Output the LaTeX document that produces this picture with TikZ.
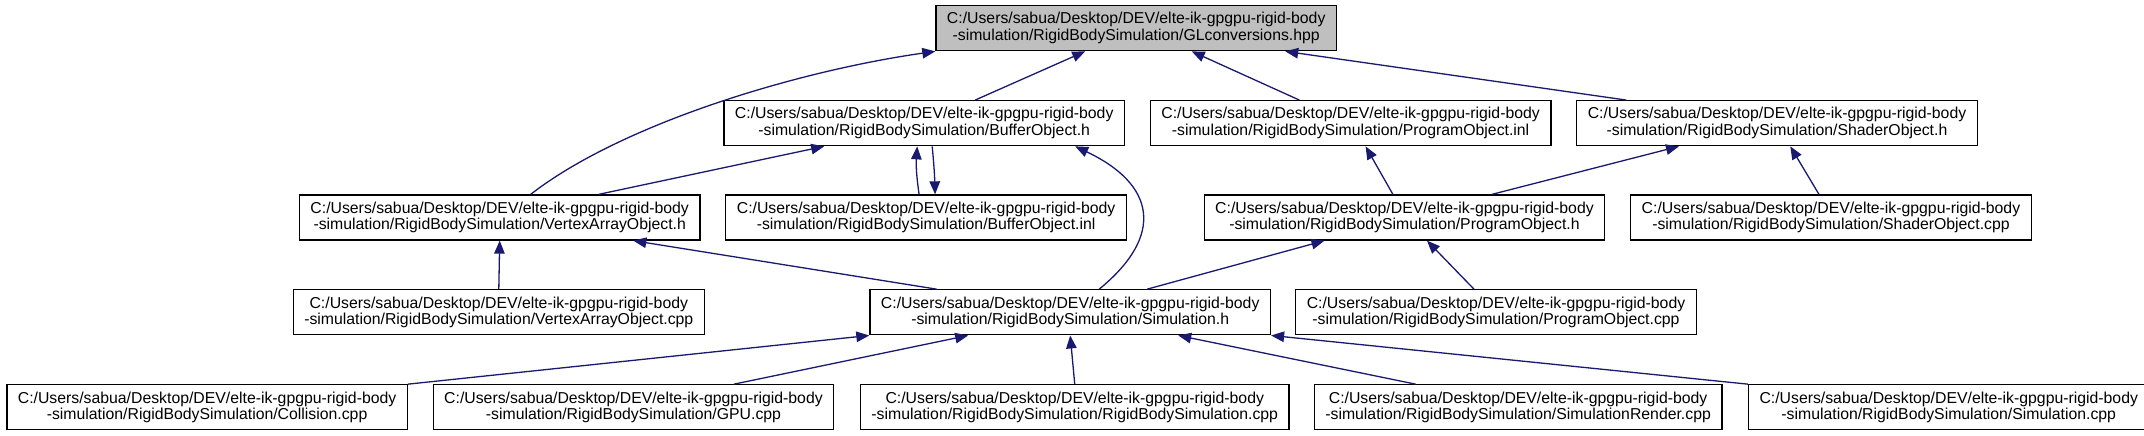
\documentclass[tikz,border=0pt]{standalone}
\usepackage{fontspec}
\setmainfont{Liberation Sans}
\usepackage{xcolor}
\usetikzlibrary{arrows.meta, positioning}
\definecolor{edgeblue}{RGB}{25,25,112}
\definecolor{curgray}{RGB}{191,191,191}

\begin{document}
\begin{tikzpicture}[x=1pt, y=-1pt,
    filebox/.style={draw=black, line width=1.3pt, fill=white, align=center,
                    inner xsep=11pt, inner ysep=0pt, minimum height=45pt,
                    font=\fontsize{15.8}{16.7}\selectfont},
    incl/.style={{Triangle[length=13pt, width=10.5pt]}-, line width=1.3pt, edgeblue}]
    \useasboundingbox[fill=white] (0,0) rectangle (2144,436);
    \node[filebox, fill=curgray] (gl) at (1136.2,28.2)
        {C:/Users/sabua/Desktop/DEV/elte-ik-gpgpu-rigid-body\\
         -simulation/RigidBodySimulation/GLconversions.hpp};
    \node[filebox, anchor=west] (boh) at (723.3,123.2)
        {C:/Users/sabua/Desktop/DEV/elte-ik-gpgpu-rigid-body\\
         -simulation/RigidBodySimulation/BufferObject.h};
    \node[filebox, right=24.6pt of boh] (poi)
        {C:/Users/sabua/Desktop/DEV/elte-ik-gpgpu-rigid-body\\
         -simulation/RigidBodySimulation/ProgramObject.inl};
    \node[filebox, right=24.6pt of poi] (soh)
        {C:/Users/sabua/Desktop/DEV/elte-ik-gpgpu-rigid-body\\
         -simulation/RigidBodySimulation/ShaderObject.h};
    \node[filebox, anchor=west] (vaoh) at (298.8,217.5)
        {C:/Users/sabua/Desktop/DEV/elte-ik-gpgpu-rigid-body\\
         -simulation/RigidBodySimulation/VertexArrayObject.h};
    \node[filebox, right=24.6pt of vaoh] (boi)
        {C:/Users/sabua/Desktop/DEV/elte-ik-gpgpu-rigid-body\\
         -simulation/RigidBodySimulation/BufferObject.inl};
    \node[filebox, right=76.6pt of boi] (poh)
        {C:/Users/sabua/Desktop/DEV/elte-ik-gpgpu-rigid-body\\
         -simulation/RigidBodySimulation/ProgramObject.h};
    \node[filebox, right=24.7pt of poh] (socpp)
        {C:/Users/sabua/Desktop/DEV/elte-ik-gpgpu-rigid-body\\
         -simulation/RigidBodySimulation/ShaderObject.cpp};
    \node[filebox] (vaocpp) at (498.8,312.3)
        {C:/Users/sabua/Desktop/DEV/elte-ik-gpgpu-rigid-body\\
         -simulation/RigidBodySimulation/VertexArrayObject.cpp};
    \node[filebox] (simh) at (1070.2,312.3)
        {C:/Users/sabua/Desktop/DEV/elte-ik-gpgpu-rigid-body\\
         -simulation/RigidBodySimulation/Simulation.h};
    \node[filebox, right=24pt of simh] (pocpp)
        {C:/Users/sabua/Desktop/DEV/elte-ik-gpgpu-rigid-body\\
         -simulation/RigidBodySimulation/ProgramObject.cpp};
    \node[filebox, anchor=west] (col) at (6.2,407.3)
        {C:/Users/sabua/Desktop/DEV/elte-ik-gpgpu-rigid-body\\
         -simulation/RigidBodySimulation/Collision.cpp};
    \node[filebox, right=24.6pt of col] (gpu)
        {C:/Users/sabua/Desktop/DEV/elte-ik-gpgpu-rigid-body\\
         -simulation/RigidBodySimulation/GPU.cpp};
    \node[filebox, right=25.4pt of gpu] (rbs)
        {C:/Users/sabua/Desktop/DEV/elte-ik-gpgpu-rigid-body\\
         -simulation/RigidBodySimulation/RigidBodySimulation.cpp};
    \node[filebox, right=24pt of rbs] (simr)
        {C:/Users/sabua/Desktop/DEV/elte-ik-gpgpu-rigid-body\\
         -simulation/RigidBodySimulation/SimulationRender.cpp};
    \node[filebox, right=25.3pt of simr] (simc)
        {C:/Users/sabua/Desktop/DEV/elte-ik-gpgpu-rigid-body\\
         -simulation/RigidBodySimulation/Simulation.cpp};

    \draw[incl] (gl.south west) .. controls +(-140,20) and +(90,-70) .. ([xshift=31pt]vaoh.north);
    \draw[incl] ([xshift=-51pt]gl.south) -- ([xshift=51pt]boh.north);
    \draw[incl] ([xshift=55.5pt]gl.south) -- ([xshift=-51.3pt]poi.north);
    \draw[incl] ([xshift=149pt]gl.south) -- ([xshift=-150.8pt]soh.north);
    \draw[incl] ([xshift=-100pt]boh.south) -- ([xshift=99pt]vaoh.north);
    \draw[incl] ([xshift=-7pt]boh.south) to[bend right=6] ([xshift=-7pt]boi.north);
    \draw[incl] ([xshift=9pt]boi.north) to[bend right=2] ([xshift=8pt]boh.south);
    \draw[incl] ([xshift=151pt]boh.south) .. controls +(80,38) and +(66,-54) .. ([xshift=29pt]simh.north);
    \draw[incl] (vaoh.south) -- (vaocpp.north);
    \draw[incl] ([xshift=133.6pt]vaoh.south) -- ([xshift=-133.6pt]simh.north);
    \draw[incl] ([xshift=15pt]poi.south) -- ([xshift=-11.6pt]poh.north);
    \draw[incl] ([xshift=-98pt]soh.south) -- ([xshift=87.5pt]poh.north);
    \draw[incl] ([xshift=13.3pt]soh.south) -- ([xshift=-12pt]socpp.north);
    \draw[incl] ([xshift=-80pt]poh.south) -- ([xshift=77pt]simh.north);
    \draw[incl] ([xshift=22.5pt]poh.south) -- ([xshift=-22pt]pocpp.north);
    \draw[incl] (simh.south west) -- (col.north east);
    \draw[incl] ([xshift=-102pt]simh.south) -- ([xshift=100.5pt]gpu.north);
    \draw[incl] (simh.south) -- (rbs.north);
    \draw[incl] ([xshift=108pt]simh.south) -- ([xshift=-102.5pt]simr.north);
    \draw[incl] (simh.south east) -- (simc.north west);
  \end{tikzpicture}
\end{document}
